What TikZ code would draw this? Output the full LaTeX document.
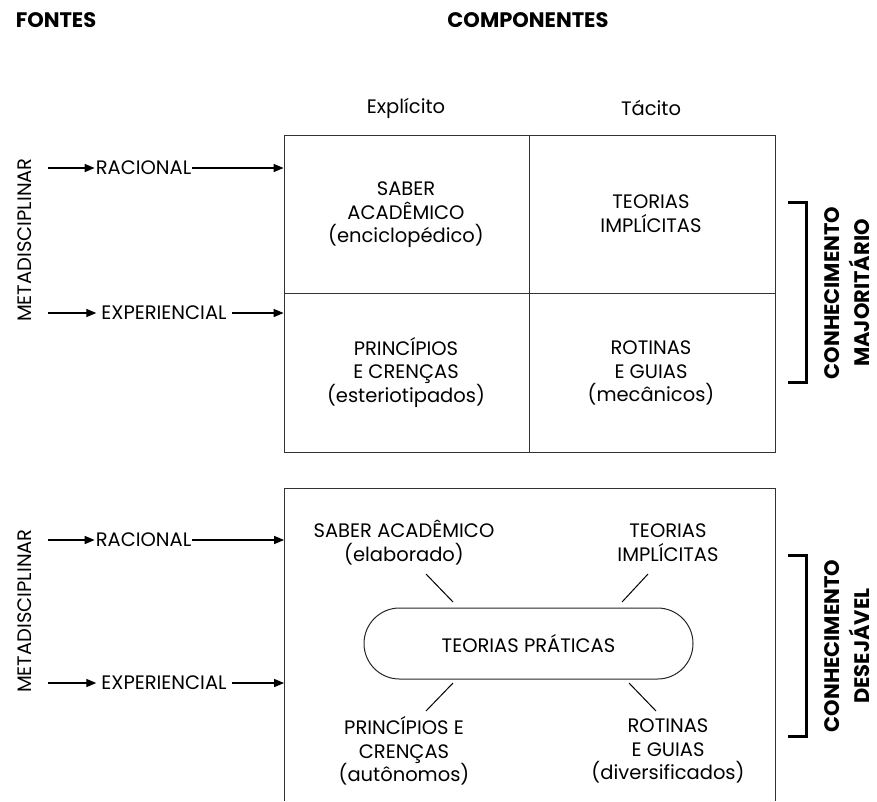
\documentclass[tikz,border=0pt]{standalone}
\usepackage{fontspec}
\setmainfont{Poppins}
\usetikzlibrary{arrows,shapes.misc}

\begin{document}
\begin{tikzpicture}[x=1pt,y=-1pt,>=triangle 45]\fontsize{19.5}{23.5}\selectfont
\tikzstyle{every node}=[align=center,inner sep=1pt]
\tikzstyle{title}=[font=\fontsize{21}{30}\selectfont\bfseries]
\tikzstyle{grid}=[draw=black!80,line width=1pt]
\tikzstyle{feed}=[->,line width=1.3pt]
\tikzstyle{bracket}=[line width=3pt]
\tikzstyle{pill}=[draw=black!85,rounded rectangle,line width=1pt,minimum width=331pt,minimum height=71pt]
\useasboundingbox (0,0) rectangle (877,801);

% headings
\node[title] (FO) at (56,20) {FONTES};
\node[title] (CO) at (528,20) {COMPONENTES};
\node (EX) at (406,108) {Explícito};
\node (TA) at (651,108) {Tácito};

% upper table
\node[grid,minimum width=491pt,minimum height=317pt] (TOP) at (529.5,293.5) {};
\draw[grid] (TOP.north) -- (TOP.south);
\draw[grid] (TOP.west) -- (TOP.east);
\node (SA) at (406,215) {SABER\\ACADÊMICO\\(enciclopédico)};
\node (TI) at (651,213.5) {TEORIAS\\IMPLÍCITAS};
\node (PC) at (406,372) {PRINCÍPIOS\\E CRENÇAS\\(esteriotipados)};
\node (RG) at (651,373) {ROTINAS\\E GUIAS\\(mecânicos)};

% sources, upper
\node[rotate=90] (MD1) at (25,240) {METADISCIPLINAR};
\coordinate (r1) at (48,168);
\coordinate (e1) at (48,313);
\node (RA1) at (143.5,168) {RACIONAL};
\node[inner sep=5pt] (EP1) at (164,313) {EXPERIENCIAL};
\draw[feed] (r1) -- (RA1);
\draw[feed] (RA1) -- (TOP.west |- RA1);
\draw[feed] (e1) -- (EP1);
\draw[feed] (EP1) -- (TOP.west |- EP1);

\draw[bracket] (788,202) -- (806,202) -- (806,382) -- (788,382);
\node[title,rotate=90] (CM) at (847,293) {CONHECIMENTO\\MAJORITÁRIO};

% lower panel
\draw[grid] (284,801) -- (284,488) -- (775,488) -- (775,801);
\coordinate (BL) at (284,540);
\node[pill] (TP) at (528.5,643.5) {TEORIAS PRÁTICAS};
\node (SE) at (404,542.5) {SABER ACADÊMICO\\(elaborado)};
\node (TB) at (668,542.5) {TEORIAS\\IMPLÍCITAS};
\node (PA) at (404,751) {PRINCÍPIOS E\\CRENÇAS\\(autônomos)};
\node (RD) at (668,751) {ROTINAS\\E GUIAS\\(diversificados)};
\coordinate (l1) at (426,574); \coordinate (l2) at (453,602);
\coordinate (l3) at (648,574); \coordinate (l4) at (622,602);
\coordinate (l5) at (453,683); \coordinate (l6) at (426,711);
\coordinate (l7) at (629,683); \coordinate (l8) at (656,711);
\draw[line width=1pt] (l1) -- (l2);
\draw[line width=1pt] (l3) -- (l4);
\draw[line width=1pt] (l5) -- (l6);
\draw[line width=1pt] (l7) -- (l8);

% sources, lower
\node[rotate=90] (MD2) at (25,611) {METADISCIPLINAR};
\coordinate (r2) at (48,540);
\coordinate (e2) at (48,683);
\node (RA2) at (143.5,540) {RACIONAL};
\node[inner sep=5pt] (EP2) at (164,683) {EXPERIENCIAL};
\draw[feed] (r2) -- (RA2);
\draw[feed] (RA2) -- (BL |- RA2);
\draw[feed] (e2) -- (EP2);
\draw[feed] (EP2) -- (BL |- EP2);

\draw[bracket] (788,555) -- (806,555) -- (806,736) -- (788,736);
\node[title,rotate=90] (CD) at (847,646) {CONHECIMENTO\\DESEJÁVEL};

\end{tikzpicture}
\end{document}
